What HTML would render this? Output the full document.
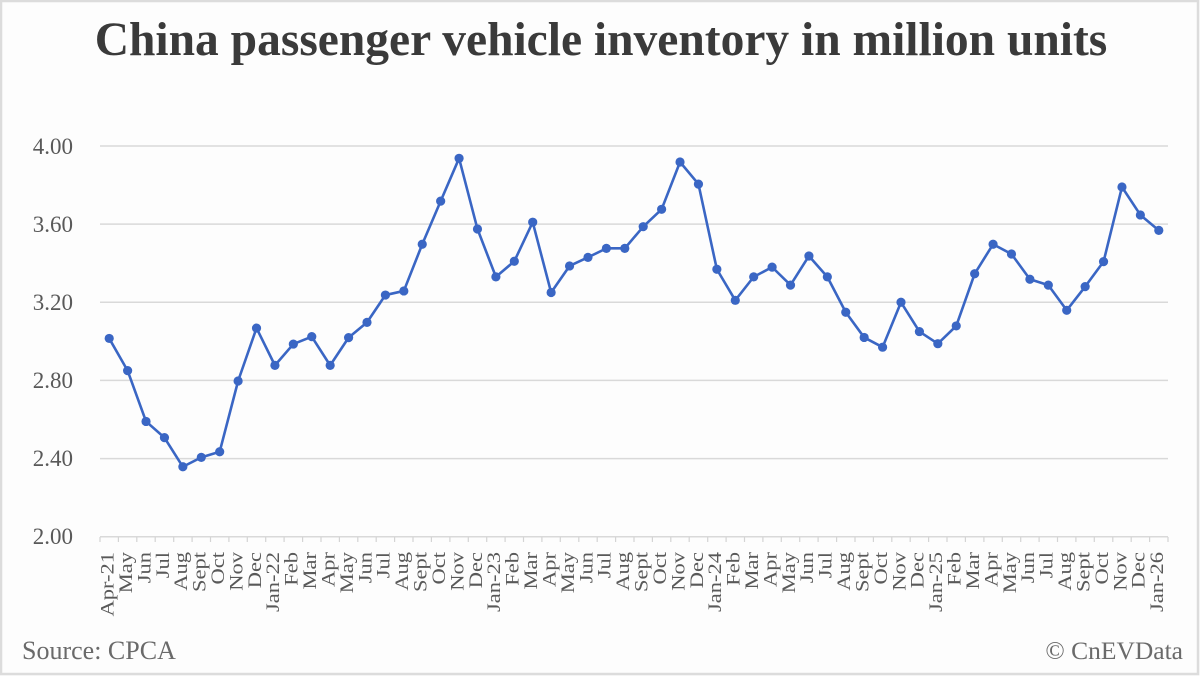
<!DOCTYPE html>
<html>
<head>
<meta charset="utf-8">
<style>
  html,body{margin:0;padding:0;background:#fff;}
  svg{display:block;}
  text{font-family:"Liberation Serif","Times New Roman",serif;}
</style>
</head>
<body>
<svg width="1200" height="676" viewBox="0 0 1200 676" xmlns="http://www.w3.org/2000/svg">
  <rect x="0" y="0" width="1200" height="676" fill="#fdfdfd"/>
  <rect x="1" y="1" width="1197" height="673" fill="none" stroke="#dcdcdc" stroke-width="2.5"/>

  <text x="601" y="55" text-anchor="middle" font-size="47.5" font-weight="bold" fill="#3a3a3a">China passenger vehicle inventory in million units</text>

  <!-- gridlines -->
  <g stroke="#d9d9d9" stroke-width="1.5">
    <line x1="100" y1="146" x2="1168" y2="146"/>
    <line x1="100" y1="224.1" x2="1168" y2="224.1"/>
    <line x1="100" y1="302.3" x2="1168" y2="302.3"/>
    <line x1="100" y1="380.4" x2="1168" y2="380.4"/>
    <line x1="100" y1="458.6" x2="1168" y2="458.6"/>
    <line x1="100" y1="536.7" x2="1168" y2="536.7"/>
  </g>

  <!-- y labels -->
  <g font-size="23" fill="#595959" text-anchor="end">
    <text x="73" y="154">4.00</text>
    <text x="73" y="232">3.60</text>
    <text x="73" y="310">3.20</text>
    <text x="73" y="388">2.80</text>
    <text x="73" y="466">2.40</text>
    <text x="73" y="544">2.00</text>
  </g>

  <!-- ticks -->
  <g stroke="#d4d4d4" stroke-width="1.2">
    <line x1="100.0" y1="537" x2="100.0" y2="542"/><line x1="118.4" y1="537" x2="118.4" y2="542"/><line x1="136.8" y1="537" x2="136.8" y2="542"/><line x1="155.2" y1="537" x2="155.2" y2="542"/><line x1="173.7" y1="537" x2="173.7" y2="542"/><line x1="192.1" y1="537" x2="192.1" y2="542"/><line x1="210.5" y1="537" x2="210.5" y2="542"/><line x1="228.9" y1="537" x2="228.9" y2="542"/><line x1="247.3" y1="537" x2="247.3" y2="542"/><line x1="265.7" y1="537" x2="265.7" y2="542"/><line x1="284.1" y1="537" x2="284.1" y2="542"/><line x1="302.6" y1="537" x2="302.6" y2="542"/><line x1="321.0" y1="537" x2="321.0" y2="542"/><line x1="339.4" y1="537" x2="339.4" y2="542"/><line x1="357.8" y1="537" x2="357.8" y2="542"/><line x1="376.2" y1="537" x2="376.2" y2="542"/><line x1="394.6" y1="537" x2="394.6" y2="542"/><line x1="413.0" y1="537" x2="413.0" y2="542"/><line x1="431.4" y1="537" x2="431.4" y2="542"/><line x1="449.9" y1="537" x2="449.9" y2="542"/><line x1="468.3" y1="537" x2="468.3" y2="542"/><line x1="486.7" y1="537" x2="486.7" y2="542"/><line x1="505.1" y1="537" x2="505.1" y2="542"/><line x1="523.5" y1="537" x2="523.5" y2="542"/><line x1="541.9" y1="537" x2="541.9" y2="542"/><line x1="560.3" y1="537" x2="560.3" y2="542"/><line x1="578.8" y1="537" x2="578.8" y2="542"/><line x1="597.2" y1="537" x2="597.2" y2="542"/><line x1="615.6" y1="537" x2="615.6" y2="542"/><line x1="634.0" y1="537" x2="634.0" y2="542"/><line x1="652.4" y1="537" x2="652.4" y2="542"/><line x1="670.8" y1="537" x2="670.8" y2="542"/><line x1="689.2" y1="537" x2="689.2" y2="542"/><line x1="707.7" y1="537" x2="707.7" y2="542"/><line x1="726.1" y1="537" x2="726.1" y2="542"/><line x1="744.5" y1="537" x2="744.5" y2="542"/><line x1="762.9" y1="537" x2="762.9" y2="542"/><line x1="781.3" y1="537" x2="781.3" y2="542"/><line x1="799.7" y1="537" x2="799.7" y2="542"/><line x1="818.1" y1="537" x2="818.1" y2="542"/><line x1="836.6" y1="537" x2="836.6" y2="542"/><line x1="855.0" y1="537" x2="855.0" y2="542"/><line x1="873.4" y1="537" x2="873.4" y2="542"/><line x1="891.8" y1="537" x2="891.8" y2="542"/><line x1="910.2" y1="537" x2="910.2" y2="542"/><line x1="928.6" y1="537" x2="928.6" y2="542"/><line x1="947.0" y1="537" x2="947.0" y2="542"/><line x1="965.4" y1="537" x2="965.4" y2="542"/><line x1="983.9" y1="537" x2="983.9" y2="542"/><line x1="1002.3" y1="537" x2="1002.3" y2="542"/><line x1="1020.7" y1="537" x2="1020.7" y2="542"/><line x1="1039.1" y1="537" x2="1039.1" y2="542"/><line x1="1057.5" y1="537" x2="1057.5" y2="542"/><line x1="1075.9" y1="537" x2="1075.9" y2="542"/><line x1="1094.3" y1="537" x2="1094.3" y2="542"/><line x1="1112.8" y1="537" x2="1112.8" y2="542"/><line x1="1131.2" y1="537" x2="1131.2" y2="542"/><line x1="1149.6" y1="537" x2="1149.6" y2="542"/><line x1="1168.0" y1="537" x2="1168.0" y2="542"/>
  </g>

  <!-- x labels -->
  <g font-size="22.5" fill="#595959" text-anchor="end">
    <text transform="translate(113.5,552) rotate(-90) scale(1,0.85)">Apr-21</text>
    <text transform="translate(131.9,552) rotate(-90) scale(1,0.85)">May</text>
    <text transform="translate(150.3,552) rotate(-90) scale(1,0.85)">Jun</text>
    <text transform="translate(168.8,552) rotate(-90) scale(1,0.85)">Jul</text>
    <text transform="translate(187.2,552) rotate(-90) scale(1,0.85)">Aug</text>
    <text transform="translate(205.6,552) rotate(-90) scale(1,0.85)">Sept</text>
    <text transform="translate(224.0,552) rotate(-90) scale(1,0.85)">Oct</text>
    <text transform="translate(242.4,552) rotate(-90) scale(1,0.85)">Nov</text>
    <text transform="translate(260.8,552) rotate(-90) scale(1,0.85)">Dec</text>
    <text transform="translate(279.2,552) rotate(-90) scale(1,0.85)">Jan-22</text>
    <text transform="translate(297.6,552) rotate(-90) scale(1,0.85)">Feb</text>
    <text transform="translate(316.1,552) rotate(-90) scale(1,0.85)">Mar</text>
    <text transform="translate(334.5,552) rotate(-90) scale(1,0.85)">Apr</text>
    <text transform="translate(352.9,552) rotate(-90) scale(1,0.85)">May</text>
    <text transform="translate(371.3,552) rotate(-90) scale(1,0.85)">Jun</text>
    <text transform="translate(389.7,552) rotate(-90) scale(1,0.85)">Jul</text>
    <text transform="translate(408.1,552) rotate(-90) scale(1,0.85)">Aug</text>
    <text transform="translate(426.5,552) rotate(-90) scale(1,0.85)">Sept</text>
    <text transform="translate(445.0,552) rotate(-90) scale(1,0.85)">Oct</text>
    <text transform="translate(463.4,552) rotate(-90) scale(1,0.85)">Nov</text>
    <text transform="translate(481.8,552) rotate(-90) scale(1,0.85)">Dec</text>
    <text transform="translate(500.2,552) rotate(-90) scale(1,0.85)">Jan-23</text>
    <text transform="translate(518.6,552) rotate(-90) scale(1,0.85)">Feb</text>
    <text transform="translate(537.0,552) rotate(-90) scale(1,0.85)">Mar</text>
    <text transform="translate(555.4,552) rotate(-90) scale(1,0.85)">Apr</text>
    <text transform="translate(573.9,552) rotate(-90) scale(1,0.85)">May</text>
    <text transform="translate(592.3,552) rotate(-90) scale(1,0.85)">Jun</text>
    <text transform="translate(610.7,552) rotate(-90) scale(1,0.85)">Jul</text>
    <text transform="translate(629.1,552) rotate(-90) scale(1,0.85)">Aug</text>
    <text transform="translate(647.5,552) rotate(-90) scale(1,0.85)">Sept</text>
    <text transform="translate(665.9,552) rotate(-90) scale(1,0.85)">Oct</text>
    <text transform="translate(684.3,552) rotate(-90) scale(1,0.85)">Nov</text>
    <text transform="translate(702.8,552) rotate(-90) scale(1,0.85)">Dec</text>
    <text transform="translate(721.2,552) rotate(-90) scale(1,0.85)">Jan-24</text>
    <text transform="translate(739.6,552) rotate(-90) scale(1,0.85)">Feb</text>
    <text transform="translate(758.0,552) rotate(-90) scale(1,0.85)">Mar</text>
    <text transform="translate(776.4,552) rotate(-90) scale(1,0.85)">Apr</text>
    <text transform="translate(794.8,552) rotate(-90) scale(1,0.85)">May</text>
    <text transform="translate(813.2,552) rotate(-90) scale(1,0.85)">Jun</text>
    <text transform="translate(831.6,552) rotate(-90) scale(1,0.85)">Jul</text>
    <text transform="translate(850.1,552) rotate(-90) scale(1,0.85)">Aug</text>
    <text transform="translate(868.5,552) rotate(-90) scale(1,0.85)">Sept</text>
    <text transform="translate(886.9,552) rotate(-90) scale(1,0.85)">Oct</text>
    <text transform="translate(905.3,552) rotate(-90) scale(1,0.85)">Nov</text>
    <text transform="translate(923.7,552) rotate(-90) scale(1,0.85)">Dec</text>
    <text transform="translate(942.1,552) rotate(-90) scale(1,0.85)">Jan-25</text>
    <text transform="translate(960.5,552) rotate(-90) scale(1,0.85)">Feb</text>
    <text transform="translate(979.0,552) rotate(-90) scale(1,0.85)">Mar</text>
    <text transform="translate(997.4,552) rotate(-90) scale(1,0.85)">Apr</text>
    <text transform="translate(1015.8,552) rotate(-90) scale(1,0.85)">May</text>
    <text transform="translate(1034.2,552) rotate(-90) scale(1,0.85)">Jun</text>
    <text transform="translate(1052.6,552) rotate(-90) scale(1,0.85)">Jul</text>
    <text transform="translate(1071.0,552) rotate(-90) scale(1,0.85)">Aug</text>
    <text transform="translate(1089.4,552) rotate(-90) scale(1,0.85)">Sept</text>
    <text transform="translate(1107.9,552) rotate(-90) scale(1,0.85)">Oct</text>
    <text transform="translate(1126.3,552) rotate(-90) scale(1,0.85)">Nov</text>
    <text transform="translate(1144.7,552) rotate(-90) scale(1,0.85)">Dec</text>
    <text transform="translate(1163.1,552) rotate(-90) scale(1,0.85)">Jan-26</text>
  </g>

  <!-- series line -->
  <polyline fill="none" stroke="#3a66c4" stroke-width="2.6" stroke-linejoin="round"
    points="109.21,338.42 127.62,370.65 146.03,421.44 164.45,437.66 182.86,466.76 201.28,457.39 219.69,451.72 238.10,381.01 256.52,328.07 274.93,365.38 293.34,344.08 311.76,336.66 330.17,365.38 348.59,337.64 367.00,322.40 385.41,295.05 403.83,290.95 422.24,244.26 440.66,201.09 459.07,158.31 477.48,229.02 495.90,276.88 514.31,261.26 532.72,222.19 551.14,292.51 569.55,265.95 587.97,257.35 606.38,248.36 624.79,248.36 643.21,226.68 661.62,209.29 680.03,162.02 698.45,184.09 716.86,269.27 735.28,300.33 753.69,276.88 772.10,267.12 790.52,285.09 808.93,255.98 827.34,276.88 845.76,312.25 864.17,337.44 882.59,347.21 901.00,302.28 919.41,331.58 937.83,343.69 956.24,325.92 974.66,273.76 993.07,244.26 1011.48,254.03 1029.90,279.23 1048.31,285.09 1066.72,310.29 1085.14,286.65 1103.55,261.65 1121.97,187.02 1140.38,214.96 1158.79,230.39"/>

  <!-- markers -->
  <g fill="#3a66c4">
    <circle cx="109.21" cy="338.42" r="4.6"/><circle cx="127.62" cy="370.65" r="4.6"/><circle cx="146.03" cy="421.44" r="4.6"/><circle cx="164.45" cy="437.66" r="4.6"/><circle cx="182.86" cy="466.76" r="4.6"/><circle cx="201.28" cy="457.39" r="4.6"/><circle cx="219.69" cy="451.72" r="4.6"/><circle cx="238.10" cy="381.01" r="4.6"/><circle cx="256.52" cy="328.07" r="4.6"/><circle cx="274.93" cy="365.38" r="4.6"/><circle cx="293.34" cy="344.08" r="4.6"/><circle cx="311.76" cy="336.66" r="4.6"/><circle cx="330.17" cy="365.38" r="4.6"/><circle cx="348.59" cy="337.64" r="4.6"/><circle cx="367.00" cy="322.40" r="4.6"/><circle cx="385.41" cy="295.05" r="4.6"/><circle cx="403.83" cy="290.95" r="4.6"/><circle cx="422.24" cy="244.26" r="4.6"/><circle cx="440.66" cy="201.09" r="4.6"/><circle cx="459.07" cy="158.31" r="4.6"/><circle cx="477.48" cy="229.02" r="4.6"/><circle cx="495.90" cy="276.88" r="4.6"/><circle cx="514.31" cy="261.26" r="4.6"/><circle cx="532.72" cy="222.19" r="4.6"/><circle cx="551.14" cy="292.51" r="4.6"/><circle cx="569.55" cy="265.95" r="4.6"/><circle cx="587.97" cy="257.35" r="4.6"/><circle cx="606.38" cy="248.36" r="4.6"/><circle cx="624.79" cy="248.36" r="4.6"/><circle cx="643.21" cy="226.68" r="4.6"/><circle cx="661.62" cy="209.29" r="4.6"/><circle cx="680.03" cy="162.02" r="4.6"/><circle cx="698.45" cy="184.09" r="4.6"/><circle cx="716.86" cy="269.27" r="4.6"/><circle cx="735.28" cy="300.33" r="4.6"/><circle cx="753.69" cy="276.88" r="4.6"/><circle cx="772.10" cy="267.12" r="4.6"/><circle cx="790.52" cy="285.09" r="4.6"/><circle cx="808.93" cy="255.98" r="4.6"/><circle cx="827.34" cy="276.88" r="4.6"/><circle cx="845.76" cy="312.25" r="4.6"/><circle cx="864.17" cy="337.44" r="4.6"/><circle cx="882.59" cy="347.21" r="4.6"/><circle cx="901.00" cy="302.28" r="4.6"/><circle cx="919.41" cy="331.58" r="4.6"/><circle cx="937.83" cy="343.69" r="4.6"/><circle cx="956.24" cy="325.92" r="4.6"/><circle cx="974.66" cy="273.76" r="4.6"/><circle cx="993.07" cy="244.26" r="4.6"/><circle cx="1011.48" cy="254.03" r="4.6"/><circle cx="1029.90" cy="279.23" r="4.6"/><circle cx="1048.31" cy="285.09" r="4.6"/><circle cx="1066.72" cy="310.29" r="4.6"/><circle cx="1085.14" cy="286.65" r="4.6"/><circle cx="1103.55" cy="261.65" r="4.6"/><circle cx="1121.97" cy="187.02" r="4.6"/><circle cx="1140.38" cy="214.96" r="4.6"/><circle cx="1158.79" cy="230.39" r="4.6"/>
  </g>

  <text x="22" y="659" font-size="26" fill="#6a6a6a">Source: CPCA</text>
  <text x="1183" y="659" font-size="25.5" fill="#6a6a6a" text-anchor="end">© CnEVData</text>
</svg>
</body>
</html>
